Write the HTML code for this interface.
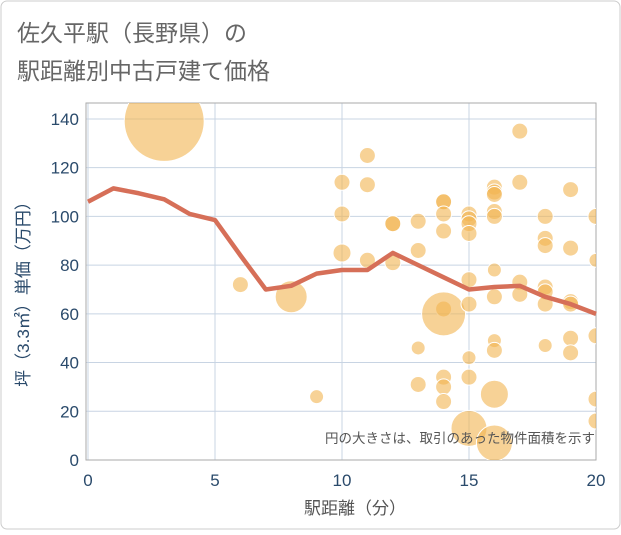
<!DOCTYPE html>
<html><head><meta charset="utf-8"><style>
body{margin:0;background:#fff}
svg text{font-family:"Liberation Sans","Noto Sans CJK JP",sans-serif}
</style></head><body>
<svg width="621" height="530" xmlns="http://www.w3.org/2000/svg">
<rect x="1" y="1" width="619" height="528" rx="6" fill="#fff" stroke="#ccc"/>
<text x="17" y="41" font-size="23" fill="#666">佐久平駅（長野県）の</text>
<text x="17" y="79" font-size="23" fill="#666">駅距離別中古戸建て価格</text>
<g id="grid"></g>
<rect x="86" y="103" width="510" height="357" fill="none" stroke="#aaa"/>
<g id="bubbles"></g>
<g id="line"></g>
<g id="axes"></g>
<text x="595" y="443" font-size="13.5" fill="#555" text-anchor="end">円の大きさは、取引のあった物件面積を示す</text>
<text x="355" y="514" font-size="17" fill="#555" text-anchor="middle">駅距離（分）</text>
<text transform="translate(29,290) rotate(-90)" font-size="17" fill="#2a4a6b" text-anchor="middle">坪（3.3㎡）単価（万円）</text>
</svg>
<script>
const xTicks=[0,5,10,15,20];
const yTicks=[0,20,40,60,80,100,120,140];
const bubbleX=[3,6,8,9,10,10,10,11,11,11,12,12,12,13,13,13,13,14,14,14,14,14,14,14,14,14,15,15,15,15,15,15,15,15,15,16,16,16,16,16,16,16,16,16,16,16,17,17,17,17,18,18,18,18,18,18,18,19,19,19,19,19,19,20,20,20,20,20];
const bubbleY=[139,72,67,26,114,101,85,125,113,82,97,97,81,98,86,46,31,106,106,101,94,62,60,34,30,24,101,99,97,93,74,64,42,34,13,112,110,109,102,100,78,67,49,45,27,7,135,114,73,68,100,91,88,71,69,64,47,111,87,65,64,50,44,100,82,51,25,16];
const bubbleR=[40,8,16,7,8,8,9,8,8,8,8,8,8,8,8,7,8,8,8,8,8,8,22,8,8,8,8,8,8,8,8,8,7,8,18,8,8,8,8,8,7,8,7,8,14,18,8,8,8,8,8,8,8,8,8,8,7,8,8,8,8,8,8,8,7,8,8,8];
const lineX=[0,1,2,3,4,5,6,7,8,9,10,11,12,13,14,15,16,17,18,19,20];
const lineY=[106,111.5,109.5,107,101,98.5,84,70,71.5,76.5,78,78,85,80,75,70,71,71.5,67,64,60];
const NS="http://www.w3.org/2000/svg";
const sx=v=>88+v*25.4, sy=v=>460-v*2.436;
function mk(t,a,p){const e=document.createElementNS(NS,t);for(const k in a)e.setAttribute(k,a[k]);p.appendChild(e);return e;}
const grid=document.getElementById('grid'),axes=document.getElementById('axes');
xTicks.forEach(v=>{const l=mk('line',{x1:sx(v),x2:sx(v),y1:103,y2:460,stroke:'#c8d4e3'},grid);

const t=mk('text',{x:sx(v),y:486,'font-size':17,fill:'#2a4a6b','text-anchor':'middle'},axes);t.textContent=v;
});
yTicks.forEach(v=>{const l=mk('line',{x1:86,x2:596,y1:sy(v),y2:sy(v),stroke:'#c8d4e3'},grid);

const t=mk('text',{x:79,y:sy(v)+6,'font-size':17,fill:'#2a4a6b','text-anchor':'end'},axes);t.textContent=v;
});
const bg=document.getElementById('bubbles');
const cp=mk('clipPath',{id:'cp'},bg);mk('rect',{x:86,y:103,width:510,height:357},cp);
const bc=mk('g',{'clip-path':'url(#cp)'},bg);
bubbleX.forEach((x,i)=>{const c=mk('circle',{cx:sx(x),cy:sy(bubbleY[i]),r:bubbleR[i],fill:'#f2b450','fill-opacity':0.6,stroke:'#fff','stroke-width':1},bc);
});
const p=mk('polyline',{points:lineX.map((x,i)=>sx(x)+','+sy(lineY[i])).join(' '),fill:'none',stroke:'#d66f58','stroke-width':4.5,'stroke-linejoin':'round'},document.getElementById('line'));

</script>
</body></html>
